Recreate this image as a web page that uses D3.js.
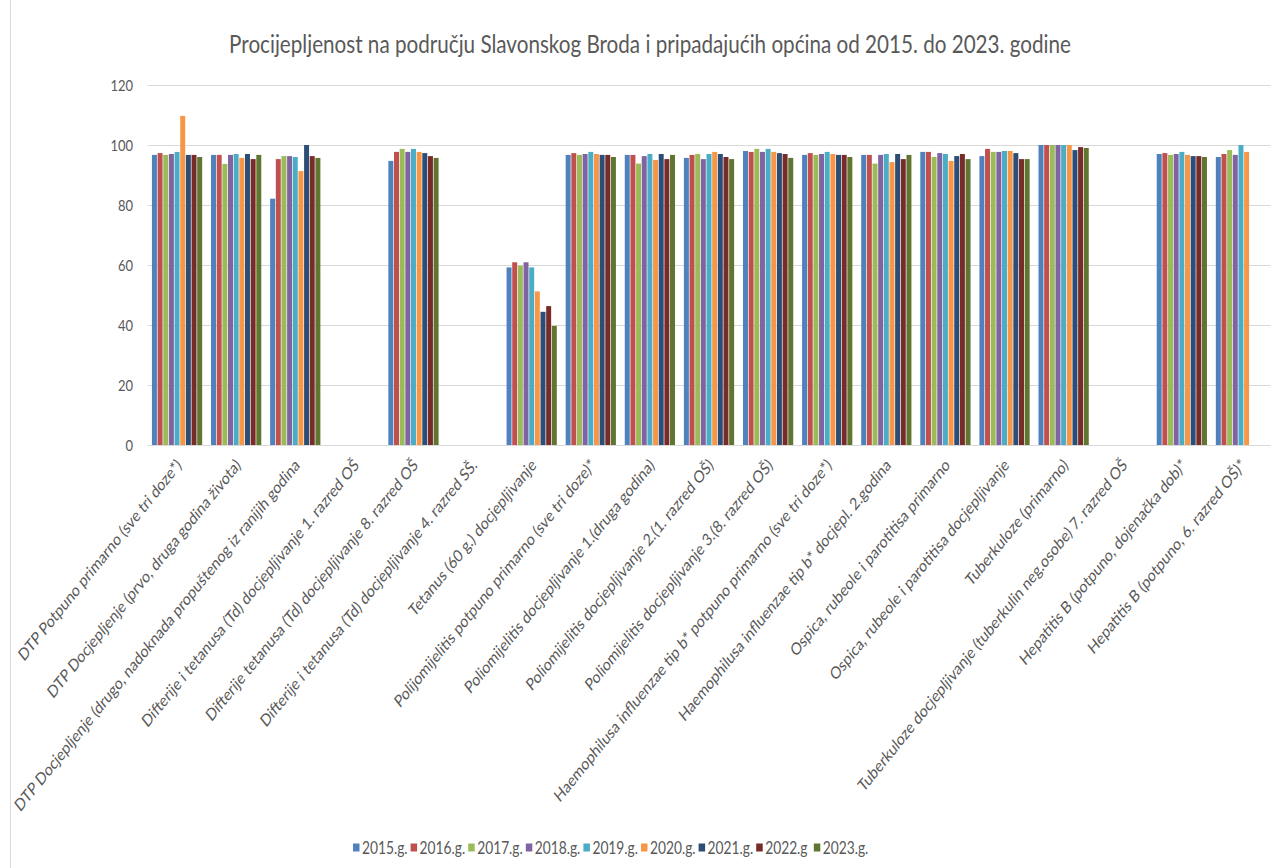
<!DOCTYPE html>
<html>
<head>
<meta charset="utf-8">
<script src="https://cdn.jsdelivr.net/npm/d3@7"></script>
<style>
    body { margin: 0; background: #ffffff; }
    svg { display: block; font-family: Lato, "Open Sans", sans-serif; }
</style>
</head>
<body>
<div id="chart"></div>
<script>

// categories on the x axis
var categories = [
    "DTP Potpuno primarno (sve tri doze*)",
    "DTP Docjepljenje (prvo, druga godina života)",
    "DTP Docjepljenje (drugo, nadoknada propuštenog iz ranijih godina",
    "Difterije i tetanusa (Td) docjepljivanje 1. razred OŠ",
    "Difterije tetanusa (Td) docjepljivanje 8. razred OŠ",
    "Difterije i tetanusa (Td) docjepljivanje 4. razred SŠ.",
    "Tetanus (60 g.) docjepljivanje",
    "Polijomijelitis potpuno primarno (sve tri doze)*",
    "Poliomijelitis docjepljivanje 1.(druga godina)",
    "Poliomijelitis docjepljivanje 2.(1. razred OŠ)",
    "Poliomijelitis docjepljivanje 3.(8. razred OŠ)",
    "Haemophilusa influenzae tip b* potpuno primarno (sve tri doze*)",
    "Haemophilusa influenzae tip b* docjepl. 2.godina",
    "Ospica, rubeole i parotitisa primarno",
    "Ospica, rubeole i parotitisa docjepljivanje",
    "Tuberkuloze (primarno)",
    "Tuberkuloze docjepljivanje (tuberkulin neg.osobe) 7. razred OŠ",
    "Hepatitis B (potpuno, dojenačka dob)*",
    "Hepatitis B (potpuno, 6. razred OŠ)*"
];

// series names (legend)
var years = ["2015.g.", "2016.g.", "2017.g.", "2018.g.", "2019.g.", "2020.g.", "2021.g.", "2022.g", "2023.g."];

// values per year, one per category (null = no bar)
var v2015 = [96.7, 96.7, 82.1, null, 94.7, null, 59.2, 96.7, 96.7, 95.7, 98.0, 96.7, 96.7, 97.7, 96.3, 100, null, 97.0, 96.0];
var v2016 = [97.3, 96.7, 95.3, null, 97.7, null, 60.9, 97.3, 96.7, 96.7, 97.7, 97.3, 96.7, 97.7, 98.7, 100, null, 97.3, 97.0];
var v2017 = [96.7, 93.7, 96.3, null, 98.7, null, 59.8, 96.7, 93.8, 97.0, 98.7, 96.7, 93.8, 96.0, 97.7, 100, null, 96.7, 98.3];
var v2018 = [97.0, 96.7, 96.3, null, 97.7, null, 60.9, 97.0, 96.3, 95.3, 97.7, 97.0, 96.7, 97.3, 97.7, 100, null, 97.0, 96.7];
var v2019 = [97.7, 97.0, 96.0, null, 98.7, null, 59.2, 97.7, 97.0, 97.0, 98.7, 97.7, 97.0, 97.0, 98.0, 100, null, 97.7, 100];
var v2020 = [109.7, 95.7, 91.3, null, 97.7, null, 51.2, 97.0, 95.0, 97.7, 97.7, 97.0, 94.3, 94.7, 98.0, 100, null, 96.7, 97.7];
var v2021 = [96.7, 97.0, 100, null, 97.3, null, 44.4, 96.7, 97.0, 97.0, 97.3, 96.7, 97.0, 96.3, 97.3, 98.3, null, 96.3, null];
var v2022 = [96.7, 95.3, 96.3, null, 96.3, null, 46.3, 96.7, 95.3, 96.0, 97.0, 96.7, 95.3, 97.0, 95.3, 99.3, null, 96.3, null];
var v2023 = [96.0, 96.7, 95.7, null, 95.7, null, 39.7, 96.0, 96.7, 95.3, 95.7, 96.0, 96.7, 95.3, 95.3, 99.0, null, 96.0, null];

var seriesValues = [v2015, v2016, v2017, v2018, v2019, v2020, v2021, v2022, v2023];

var yTicks = [0, 20, 40, 60, 80, 100, 120];

var colors = ["#4F81BD", "#C0504D", "#9BBB59", "#8064A2", "#4BACC6", "#F79646", "#2C4D75", "#772C2A", "#5F7530"];

var title = "Procijepljenost na području Slavonskog Broda i pripadajućih općina od 2015. do 2023. godine";

// svg size
var svgWidth = 1278;
var svgHeight = 868;

// plot area
var plot = { left: 147.5, right: 1270.5, top: 85, bottom: 445 };

// the picture is a bit squeezed sideways, text gets the same squeeze
var squeeze = 0.81;
var textColor = "#595959";

var svg = d3.select("#chart").append("svg")
    .attr("width", svgWidth)
    .attr("height", svgHeight);

// chart border on the left
svg.append("line")
    .attr("x1", 10.5).attr("x2", 10.5)
    .attr("y1", 0).attr("y2", svgHeight)
    .attr("stroke", "#d9d9d9")
    .attr("stroke-width", 1);

// scales
var xScale = d3.scaleBand()
    .domain(categories)
    .range([plot.left, plot.right])
    .paddingInner(0.15)
    .paddingOuter(0.075);

var xInner = d3.scaleBand()
    .domain(years)
    .range([0, xScale.bandwidth()])
    .paddingInner(0.12);

var yScale = d3.scaleLinear()
    .domain([0, 120])
    .range([plot.bottom, plot.top]);

// gridlines
var yAxis = d3.axisLeft(yScale)
    .tickValues(yTicks)
    .tickSize(-(plot.right - plot.left))
    .tickFormat("");

var grid = svg.append("g")
    .attr("transform", `translate(${plot.left}, 0)`)
    .call(yAxis);
grid.select(".domain").remove();
grid.selectAll(".tick line")
    .attr("stroke", "#d9d9d9")
    .attr("stroke-width", 1.2);

// y tick labels
svg.append("g").selectAll("text")
    .data(yTicks)
    .enter()
    .append("text")
    .attr("transform", d => `translate(133, ${yScale(d)}) scale(${squeeze}, 1)`)
    .attr("dy", "0.35em")
    .attr("text-anchor", "end")
    .attr("font-size", "16px")
    .attr("fill", textColor)
    .text(d => d);

// bars, one group per year
var barData = [];
seriesValues.forEach(function (vals, i) {
    vals.forEach(function (v, j) {
        if (v !== null) {
            barData.push({ year: years[i], cat: categories[j], value: v, color: colors[i] });
        }
    });
});

svg.append("g").selectAll("rect")
    .data(barData)
    .enter()
    .append("rect")
    .attr("x", d => xScale(d.cat) + xInner(d.year))
    .attr("y", d => yScale(d.value))
    .attr("width", xInner.bandwidth())
    .attr("height", d => yScale(0) - yScale(d.value))
    .attr("fill", d => d.color);

// category labels, rotated
svg.append("g").selectAll("text")
    .data(categories)
    .enter()
    .append("text")
    .attr("transform", d => `translate(${xScale(d) + xScale.bandwidth() / 2 + 2}, 462) scale(${squeeze}, 1) rotate(-45)`)
    .attr("dy", "0.35em")
    .attr("text-anchor", "end")
    .attr("font-size", "17px")
    .attr("fill", textColor)
    .text(d => d);

// title
svg.append("text")
    .attr("transform", `translate(650, 53) scale(${squeeze}, 1)`)
    .attr("text-anchor", "middle")
    .attr("font-size", "25.5px")
    .attr("fill", textColor)
    .text(title);

// legend
var legendStart = 353;
var legendStep = 57.6;

var legend = svg.append("g").selectAll("g")
    .data(years)
    .enter()
    .append("g")
    .attr("transform", (d, i) => `translate(${legendStart + i * legendStep}, 848)`);

legend.append("rect")
    .attr("x", 0)
    .attr("y", -4.5)
    .attr("width", 6.5)
    .attr("height", 8)
    .attr("fill", (d, i) => colors[i]);

legend.append("text")
    .attr("transform", `translate(9, 0) scale(${squeeze}, 1)`)
    .attr("dy", "0.35em")
    .attr("font-size", "17px")
    .attr("fill", textColor)
    .text(d => d);

</script>
</body>
</html>
